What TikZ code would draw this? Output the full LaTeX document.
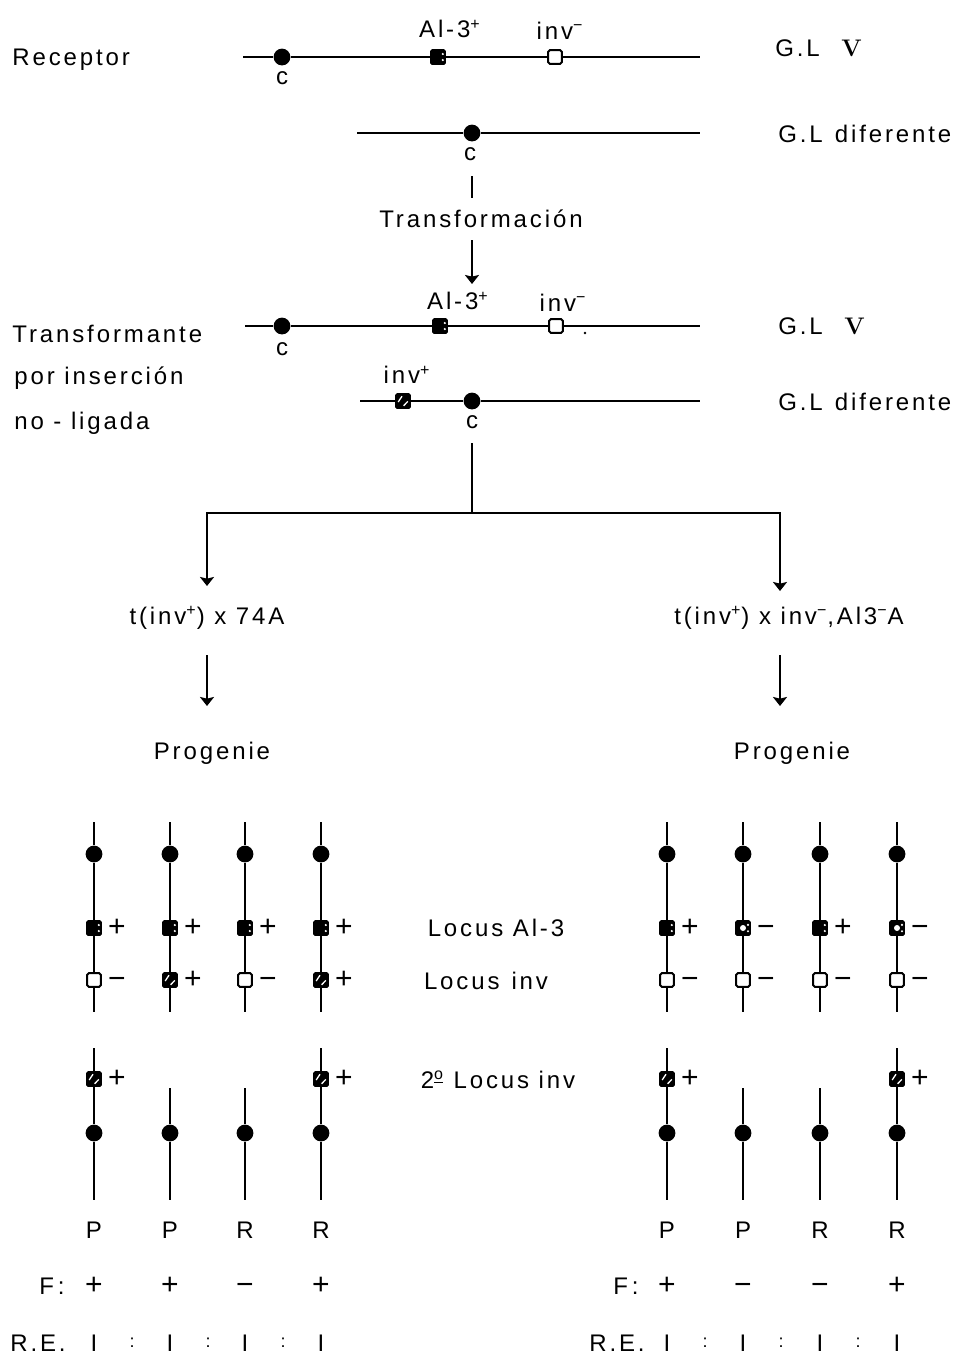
\documentclass[tikz,border=0pt]{standalone}
\usepackage{fontspec}
\newfontfamily\labfont{Liberation Sans}[LetterSpace=12]
\usetikzlibrary{arrows.meta}
\begin{document}
\begin{tikzpicture}[x={(0.5pt,0pt)}, y={(0pt,-0.5pt)},
  every node/.style={font=\labfont\fontsize{12}{14}\selectfont, inner sep=0pt},
  sign/.style={font=\labfont\fontsize{15}{17}\selectfont, execute at begin node={\vphantom{+}}},
  chrom/.style={line width=1pt},
  cen/.style={circle, fill=black, minimum size=8.4pt, inner sep=0pt},
  mk/.style={rectangle, minimum size=7.8pt, inner sep=0pt, rounded corners=0.8pt},
  alp/.style={mk, fill=black, path picture={
      \fill[white] ([xshift=-1.5pt,yshift=1.5pt]path picture bounding box.east) circle (0.6pt);
      \fill[white] ([xshift=-1.5pt,yshift=-1.5pt]path picture bounding box.east) circle (0.6pt);}},
  alm/.style={mk, fill=black, path picture={
      \fill[white] (path picture bounding box.center) circle (1.5pt);
      \fill[white] ([xshift=-1.4pt,yshift=1.6pt]path picture bounding box.east) circle (0.6pt);
      \fill[white] ([xshift=-1.4pt,yshift=-1.6pt]path picture bounding box.east) circle (0.6pt);}},
  opn/.style={mk, draw, line width=1pt, fill=white, minimum size=6.8pt},
  hat/.style={mk, fill=black, path picture={
      \draw[white,line width=0.65pt] ([shift={(-2.4pt,-0.5pt)}]path picture bounding box.center) -- ([shift={(-0.5pt,2.4pt)}]path picture bounding box.center);
      \draw[white,line width=0.65pt] ([shift={(0.3pt,-2.4pt)}]path picture bounding box.center) -- ([shift={(2.4pt,-0.2pt)}]path picture bounding box.center);}},
  arr/.style={-{Stealth[width=7pt,length=4.5pt,inset=0.8pt]}, line width=1pt},
  gl/.style={anchor=west}
]
\useasboundingbox (0,0) rectangle (961,1357);

% --- receptor: linkage group V
\node[anchor=west] (receptor) at (12,60) {Receptor};
\coordinate (r1a) at (243,57);
\coordinate (r1b) at (700,57);
\node[cen] (c1) at (282,57) {};
\node[alp] (a1) at (438,57) {};
\node[opn] (i1) at (555,57) {};
\draw[chrom] (r1a) -- (c1) -- (a1) -- (i1) -- (r1b);
\node (c1l) at (282,78) {c};
\node (a1l) at (450,29) {Al-3\textsuperscript{+}};
\node (i1l) at (560,31) {inv\textsuperscript{−}};
\node[gl] (gl1) at (775,48) {G.L\hspace{0.9em}{\rmfamily\bfseries V}};

% --- other linkage group
\coordinate (r2a) at (357,133);
\coordinate (r2b) at (700,133);
\node[cen] (c2) at (472,133) {};
\draw[chrom] (r2a) -- (c2) -- (r2b);
\node (c2l) at (470,154) {c};
\node[gl] (gl2) at (778,134) {G.L\hspace{0.5em}diferente};

% --- transformation step
\coordinate (t1) at (472,176);
\coordinate (t2) at (472,198);
\draw[chrom] (t1) -- (t2);
\node (trans) at (481,219) {Transformación};
\coordinate (t3) at (472,240);
\coordinate (t4) at (472,284);
\draw[arr] (t3) -- (t4);

% --- transformant
\node[anchor=west] (tl1) at (12,334) {Transformante};
\node[anchor=west] (tl2) at (14,378) {por\hspace{0.4em}inserción};
\node[anchor=west] (tl3) at (14,423) {no - ligada};

\coordinate (r3a) at (245,326);
\coordinate (r3b) at (700,326);
\node[cen] (c3) at (282,326) {};
\node[alp] (a3) at (440,326) {};
\node[opn] (i3) at (556,326) {};
\draw[chrom] (r3a) -- (c3) -- (a3) -- (i3) -- (r3b);
\node (c3l) at (282,349) {c};
\node (a3l) at (458,301) {Al-3\textsuperscript{+}};
\node (i3l) at (563,303) {inv\textsuperscript{−}};
\fill (585,333) circle (0.7pt);
\node[gl] (gl3) at (778,326) {G.L\hspace{0.9em}{\rmfamily\bfseries V}};

\coordinate (r4a) at (360,401);
\coordinate (r4b) at (700,401);
\node[hat] (h4) at (403,401) {};
\node[cen] (c4) at (472,401) {};
\draw[chrom] (r4a) -- (h4) -- (c4) -- (r4b);
\node (h4l) at (407,375) {inv\textsuperscript{+}};
\node (c4l) at (472,422) {c};
\node[gl] (gl4) at (778,402) {G.L\hspace{0.5em}diferente};

% --- branching to the two crosses
\coordinate (b0) at (472,443);
\coordinate (b1) at (472,513);
\coordinate (bl) at (207,513);
\coordinate (br) at (780,513);
\coordinate (blt) at (207,586);
\coordinate (brt) at (780,591);
\draw[chrom] (b0) -- (b1);
\draw[arr] (b1) -- (bl) -- (blt);
\draw[arr] (b1) -- (br) -- (brt);

\node (crossL) at (207,618) {t(inv\textsuperscript{+})\hspace{0.4em}x\hspace{0.4em}74A};
\node (crossR) at (789,618) {t(inv\textsuperscript{+}) x inv\textsuperscript{−},Al3\textsuperscript{−}A};
\coordinate (pl1) at (207,655);
\coordinate (pl2) at (207,706);
\coordinate (pr1) at (780,655);
\coordinate (pr2) at (780,706);
\draw[arr] (pl1) -- (pl2);
\draw[arr] (pr1) -- (pr2);
\node (progL) at (212,753) {Progenie};
\node (progR) at (792,753) {Progenie};

% --- locus captions
\node (locA) at (496,928) {Locus\hspace{0.4em}Al-3};
\node (locI) at (486,981) {Locus\hspace{0.5em}inv};
\node (loc2) at (498,1080) {2\textsuperscript{\underline{o}} Locus\hspace{0.4em}inv};

% --- progeny chromosomes
\foreach \n/\x/\al/\as/\inv/\is/\sec/\lt/\pr/\f in {
  1/94/alp/+/opn/−/1/1048/P/+,
  2/170/alp/+/hat/+/0/1088/P/+,
  3/245/alp/+/opn/−/0/1088/R/−,
  4/321/alp/+/hat/+/1/1048/R/+,
  5/667/alp/+/opn/−/1/1048/P/+,
  6/743/alm/−/opn/−/0/1088/P/−,
  7/820/alp/+/opn/−/0/1088/R/−,
  8/897/alm/−/opn/−/1/1048/R/+}{
  \coordinate (ut\n) at (\x,822);
  \coordinate (ub\n) at (\x,1012);
  \node[cen] (uc\n) at (\x,854) {};
  \node[\al] (ua\n) at (\x,928) {};
  \node[\inv] (ui\n) at (\x,980) {};
  \draw[chrom] (ut\n) -- (uc\n) -- (ua\n) -- (ui\n) -- (ub\n);
  \node[sign] (uas\n) at (\x+23,928) {\as};
  \node[sign] (uis\n) at (\x+23,980) {\is};
  \coordinate (lt\n) at (\x,\lt);
  \coordinate (lb\n) at (\x,1200);
  \node[cen] (lc\n) at (\x,1133) {};
  \ifnum\sec=1
    \node[hat] (lh\n) at (\x,1079) {};
    \node[sign] (lhs\n) at (\x+23,1079) {+};
    \draw[chrom] (lt\n) -- (lh\n) -- (lc\n) -- (lb\n);
  \else
    \draw[chrom] (lt\n) -- (lc\n) -- (lb\n);
  \fi
  \node (p\n) at (\x,1230) {\pr};
  \node[sign] (f\n) at (\x,1286) {\f};
  \node (re\n) at (\x,1343) {I};
}

% --- phenotype and ratio rows
\node (fL) at (52,1286) {F\,:};
\node (fR) at (626,1286) {F\,:};
\node (reL) at (38,1343) {R.E.};
\node (reR) at (617,1343) {R.E.};
\foreach \k/\x in {a/132,b/208,c/283,d/705,e/781,f/858}{
  \node[font=\labfont\fontsize{9}{11}\selectfont] (col\k) at (\x,1343) {:};
}
\end{tikzpicture}
\end{document}
